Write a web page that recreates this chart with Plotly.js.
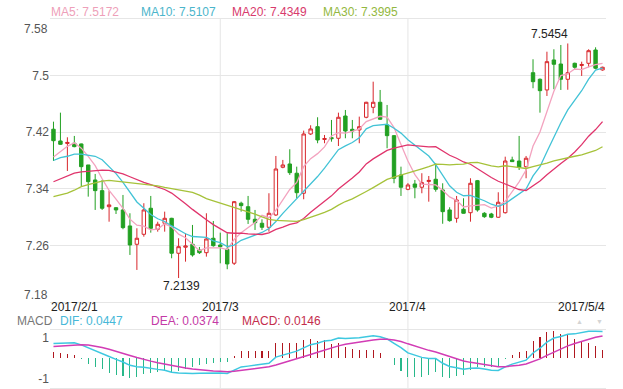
<!DOCTYPE html>
<html><head><meta charset="utf-8">
<script src="https://cdn.plot.ly/plotly-3.0.1.min.js"></script>
<style>html,body{margin:0;padding:0;background:#fff}#chart{width:623px;height:389px}</style>
</head><body><div id="chart"></div>
<script>
const dates = ['2017-02-01','2017-02-02','2017-02-03','2017-02-04','2017-02-06','2017-02-07','2017-02-08','2017-02-09','2017-02-10','2017-02-11',
'2017-02-13','2017-02-14','2017-02-15','2017-02-16','2017-02-17','2017-02-18','2017-02-20','2017-02-21','2017-02-22','2017-02-23',
'2017-02-24','2017-02-25','2017-02-27','2017-02-28','2017-03-01','2017-03-02','2017-03-03','2017-03-04','2017-03-06','2017-03-07',
'2017-03-08','2017-03-09','2017-03-10','2017-03-11','2017-03-13','2017-03-14','2017-03-15','2017-03-16','2017-03-17','2017-03-18',
'2017-03-20','2017-03-21','2017-03-22','2017-03-23','2017-03-24','2017-03-25','2017-03-27','2017-03-28','2017-03-29','2017-03-30',
'2017-03-31','2017-04-01','2017-04-03','2017-04-04','2017-04-05','2017-04-06','2017-04-07','2017-04-08','2017-04-10','2017-04-11',
'2017-04-12','2017-04-13','2017-04-14','2017-04-15','2017-04-17','2017-04-18','2017-04-19','2017-04-20','2017-04-21','2017-04-22',
'2017-04-24','2017-04-25','2017-04-26','2017-04-27','2017-04-28','2017-04-29','2017-05-01','2017-05-02','2017-05-03','2017-05-04'];

const openP = [7.4242,7.4076,7.4041,7.4044,7.4034,7.3737,7.3525,7.3374,7.3147,7.3133,
7.3101,7.2875,7.2616,7.2757,7.3125,7.2828,7.2913,7.2983,7.2489,7.2574,
7.2616,7.2535,7.2497,7.2701,7.2606,7.2545,7.2348,7.3196,7.3147,7.2969,
7.2913,7.2856,7.3030,7.3704,7.3751,7.3620,7.3337,7.4175,7.4278,7.4097,
7.4123,7.4114,7.4429,7.4241,7.4232,7.4411,7.4552,7.4623,7.4302,7.4151,
7.3596,7.3393,7.3468,7.3422,7.3504,7.3535,7.3384,7.3101,7.2983,7.3111,
7.3062,7.3515,7.3054,7.3044,7.2998,7.3062,7.3808,7.3793,7.3713,7.5041,
7.4948,7.4797,7.5221,7.5164,7.4948,7.5174,7.5143,7.5174,7.5362,7.5080];

const highP = [7.4349,7.4476,7.4128,7.4147,7.4040,7.3737,7.3610,7.3525,7.3374,7.3140,
7.3313,7.3054,7.2842,7.3196,7.3299,7.2935,7.3077,7.2990,7.2701,7.2772,
7.2889,7.2578,7.3054,7.2945,7.2780,7.2772,7.3228,7.3218,7.3299,7.3101,
7.2969,7.3337,7.3864,7.3808,7.3959,7.3713,7.4222,7.4298,7.4411,7.4161,
7.4373,7.4476,7.4514,7.4373,7.4420,7.4630,7.4914,7.4797,7.4585,7.4160,
7.3713,7.3480,7.3525,7.3620,7.3581,7.3761,7.3478,7.3139,7.3299,7.3266,
7.3549,7.3525,7.3070,7.3060,7.3351,7.3854,7.3854,7.4147,7.3864,7.5231,
7.4960,7.5338,7.5372,7.5433,7.5454,7.5183,7.5197,7.5372,7.5400,7.5126];

const lowP = [7.3793,7.4020,7.3652,7.3987,7.3440,7.3289,7.3101,7.3101,7.2935,7.3044,
7.2828,7.2465,7.2253,7.2723,7.2780,7.2794,7.2794,7.2418,7.2139,7.2370,
7.2441,7.2479,7.2441,7.2582,7.2347,7.2263,7.2323,7.3077,7.2903,7.2818,
7.2818,7.2794,7.3016,7.3690,7.3596,7.3266,7.3252,7.4161,7.4044,7.4044,
7.4066,7.4005,7.4114,7.4114,7.4044,7.4397,7.4468,7.4373,7.3973,7.3478,
7.3299,7.3380,7.3266,7.3337,7.3218,7.3359,7.2906,7.2935,7.2921,7.3050,
7.2935,7.3077,7.2990,7.2985,7.2990,7.3050,7.3780,7.3666,7.3549,7.4821,
7.4476,7.4712,7.4807,7.4797,7.4800,7.5080,7.4995,7.5118,7.5090,7.5070];

const closeP = [7.4080,7.4029,7.4055,7.3996,7.3713,7.3501,7.3374,7.3125,7.3172,7.3101,
7.2851,7.2606,7.2701,7.3101,7.2842,7.2899,7.2983,7.2489,7.2582,7.2592,
7.2465,7.2497,7.2691,7.2596,7.2582,7.2338,7.3218,7.3162,7.2969,7.2921,
7.2856,7.3054,7.3680,7.3737,7.3628,7.3345,7.4175,7.4246,7.4090,7.4111,
7.4109,7.4411,7.4217,7.4217,7.4278,7.4623,7.4623,7.4383,7.4151,7.3549,
7.3422,7.3454,7.3422,7.3487,7.3518,7.3393,7.3077,7.2950,7.3242,7.3054,
7.3478,7.3101,7.3006,7.2998,7.3210,7.3793,7.3784,7.3704,7.3832,7.4914,
7.4787,7.5197,7.5160,7.4948,7.5041,7.5118,7.5157,7.5352,7.5104,7.5118];

const ma5 = [7.385,7.393,7.400,7.405,7.3975,7.3859,7.3728,7.3542,7.3377,7.3255,
7.3125,7.2971,7.2886,7.2872,7.2820,7.2830,7.2905,7.2863,7.2759,7.2709,
7.2622,7.2525,7.2565,7.2568,7.2566,7.2541,7.2685,7.2779,7.2854,7.2922,
7.3025,7.2992,7.3096,7.3250,7.3391,7.3489,7.3713,7.3826,7.3897,7.3993,
7.4146,7.4193,7.4188,7.4213,7.4246,7.4349,7.4392,7.4425,7.4412,7.4266,
7.4026,7.3792,7.3600,7.3467,7.3461,7.3455,7.3379,7.3285,7.3236,7.3143,
7.3160,7.3165,7.3176,7.3127,7.3159,7.3222,7.3358,7.3498,7.3665,7.4005,
7.4204,7.4487,7.4778,7.5001,7.5027,7.5093,7.5085,7.5123,7.5154,7.5172];

const ma10 = [7.380,7.384,7.386,7.389,7.389,7.387,7.386,7.381,7.371,7.3615,
7.3492,7.3349,7.3214,7.3125,7.3037,7.2977,7.2938,7.2875,7.2816,7.2765,
7.2726,7.2715,7.2714,7.2664,7.2638,7.2582,7.2605,7.2672,7.2711,7.2744,
7.2783,7.2839,7.2938,7.3052,7.3156,7.3257,7.3353,7.3461,7.3573,7.3692,
7.3818,7.3953,7.4007,7.4055,7.4120,7.4248,7.4293,7.4306,7.4312,7.4256,
7.4187,7.4092,7.4012,7.3939,7.3863,7.3740,7.3586,7.3442,7.3351,7.3302,
7.3308,7.3272,7.3231,7.3182,7.3151,7.3191,7.3262,7.3337,7.3396,7.3582,
7.3713,7.3923,7.4138,7.4333,7.4516,7.4649,7.4786,7.4951,7.5078,7.5107];

const ma20 = [7.350,7.354,7.358,7.362,7.364,7.365,7.366,7.3665,7.366,7.364,
7.361,7.357,7.3525,7.349,7.346,7.343,7.339,7.334,7.327,7.3190,
7.3109,7.3032,7.2964,7.2894,7.2837,7.2779,7.2772,7.2773,7.2763,7.2754,
7.2754,7.2777,7.2826,7.2858,7.2897,7.2919,7.2979,7.3067,7.3142,7.3218,
7.3300,7.3396,7.3472,7.3553,7.3638,7.3752,7.3823,7.3884,7.3943,7.3974,
7.4002,7.4022,7.4010,7.3997,7.3992,7.3994,7.3939,7.3874,7.3832,7.3779,
7.3747,7.3682,7.3621,7.3560,7.3507,7.3466,7.3424,7.3390,7.3374,7.3442,
7.3510,7.3597,7.3684,7.3757,7.3833,7.3920,7.4024,7.4144,7.4237,7.4349];

const ma30 = [7.329,7.331,7.334,7.338,7.343,7.346,7.349,7.351,7.352,7.351,
7.350,7.348,7.347,7.346,7.345,7.344,7.342,7.340,7.339,7.337,
7.335,7.331,7.326,7.323,7.320,7.317,7.314,7.311,7.307,7.3041,
7.3002,7.2968,7.2955,7.2947,7.2944,7.2939,7.2965,7.3003,7.3033,7.3067,
7.3109,7.3169,7.3220,7.3257,7.3305,7.3362,7.3417,7.3480,7.3532,7.3564,
7.3596,7.3628,7.3652,7.3682,7.3713,7.3748,7.3744,7.3737,7.3746,7.3750,
7.3771,7.3772,7.3750,7.3725,7.3711,7.3726,7.3713,7.3695,7.3687,7.3713,
7.3736,7.3762,7.3794,7.3818,7.3843,7.3860,7.3878,7.3910,7.3942,7.3995];

const macdBar = [0.30,0.25,0.22,0.19,-0.02,-0.25,-0.44,-0.54,-0.70,-0.81,
-0.86,-0.97,-0.92,-0.76,-0.73,-0.65,-0.60,-0.65,-0.60,-0.54,
-0.44,-0.33,-0.25,-0.22,-0.17,-0.17,0.14,0.35,0.35,0.35,
0.35,0.35,0.78,0.78,0.78,0.78,0.89,0.96,0.88,0.89,
0.73,0.78,0.57,0.46,0.41,0.41,0.41,0.25,0.02,-0.33,
-0.60,-0.89,-0.89,-0.89,-0.81,-0.65,-0.89,-0.97,-0.86,-0.81,
-0.57,-0.44,-0.44,-0.44,-0.38,-0.02,0.19,0.30,0.38,0.86,
1.05,1.30,1.37,1.21,1.14,0.94,0.84,0.78,0.59,0.43];

const dea = [0.59,0.62,0.65,0.68,0.68,0.66,0.61,0.54,0.45,0.36,
0.26,0.15,0.05,-0.05,-0.13,-0.21,-0.28,-0.35,-0.41,-0.47,
-0.52,-0.56,-0.59,-0.61,-0.63,-0.65,-0.63,-0.59,-0.55,-0.50,
-0.46,-0.41,-0.32,-0.22,-0.12,-0.03,0.08,0.20,0.31,0.42,
0.53,0.62,0.70,0.76,0.81,0.86,0.91,0.94,0.95,0.91,
0.835,0.72,0.61,0.50,0.40,0.32,0.21,0.09,-0.02,-0.12,
-0.19,-0.25,-0.30,-0.36,-0.40,-0.40,-0.37,-0.33,-0.27,-0.16,
-0.02,0.15,0.32,0.48,0.62,0.74,0.85,0.95,1.04,1.11];

const dif = [0.74,0.745,0.76,0.775,0.67,0.535,0.39,0.27,0.10,-0.045,
-0.17,-0.335,-0.41,-0.43,-0.495,-0.535,-0.58,-0.675,-0.71,-0.74,
-0.74,-0.725,-0.715,-0.72,-0.715,-0.735,-0.56,-0.415,-0.375,-0.325,
-0.285,-0.235,0.07,0.17,0.27,0.36,0.525,0.68,0.75,0.865,
0.895,1.01,0.985,0.99,1.015,1.065,1.115,1.065,0.96,0.745,
0.535,0.275,0.165,0.055,-0.005,-0.005,-0.235,-0.395,-0.45,-0.525,
-0.475,-0.47,-0.52,-0.58,-0.59,-0.41,-0.275,-0.18,-0.08,0.27,
0.505,0.80,1.005,1.085,1.19,1.21,1.27,1.34,1.335,1.325];

const priceTickVals = [7.18, 7.26, 7.34, 7.42, 7.5, 7.58];
const priceTickText = ['7.18', '7.26', '7.34', '7.42', '7.5', '7.58'];
const macdTickVals = [-1, 1];
const macdTickText = ['-1', '1'];
const dateTickVals = ['2017-02-01', '2017-03-01', '2017-04-01', '2017-05-04'];
const dateTickText = ['2017/2/1', '2017/3', '2017/4', '2017/5/4'];
const maNames = ['MA5', 'MA10', 'MA20', 'MA30'];
const maLast = ['7.5172', '7.5107', '7.4349', '7.3995'];
const macdNames = ['DIF', 'DEA', 'MACD'];
const macdLast = ['0.0447', '0.0374', '0.0146'];
const maxLabel = '7.5454';
const minLabel = '7.2139';

const FONT = '"Liberation Sans", Arial, sans-serif';
const RED = '#d8262b', GREEN = '#22a022';
const maColors = ['#f3a3bf', '#42c3d6', '#e0346c', '#a6c23a'];
const maTextColors = ['#ee9fb9', '#4bb5cb', '#d83a6c', '#93b841'];
const macdTextColors = ['#47b8d8', '#c43aa6', '#c42d4c'];
const GRID = '#e6e6e6';

const idx = d => dates.indexOf(d);

const traces = [];
traces.push({
  type: 'candlestick', x: dates, open: openP, high: highP, low: lowP, close: closeP,
  xaxis: 'x', yaxis: 'y', whiskerwidth: 0, hoverinfo: 'skip',
  increasing: {line: {color: RED, width: 1}, fillcolor: '#ffffff'},
  decreasing: {line: {color: GREEN, width: 1}, fillcolor: GREEN}
});
[ma5, ma10, ma20, ma30].forEach((arr, k) => {
  traces.push({type: 'scatter', mode: 'lines', x: dates, y: arr, xaxis: 'x', yaxis: 'y',
    line: {color: maColors[k], width: 1.3}, hoverinfo: 'skip'});
});
traces.push({
  type: 'bar', x: dates, y: macdBar, xaxis: 'x2', yaxis: 'y2', width: 0.15,
  marker: {color: macdBar.map(v => v >= 0 ? '#b0171f' : '#28b88a'), line: {width: 0}}, hoverinfo: 'skip'
});
traces.push({type: 'scatter', mode: 'lines', x: dates, y: dif, xaxis: 'x2', yaxis: 'y2',
  line: {color: '#3ec8e0', width: 1.5}, hoverinfo: 'skip'});
traces.push({type: 'scatter', mode: 'lines', x: dates, y: dea, xaxis: 'x2', yaxis: 'y2',
  line: {color: '#d23cb5', width: 1.5}, hoverinfo: 'skip'});

const W = 623, H = 389, ML = 50, MR = 17, MT = 19, MB = 1;
const PW = W - ML - MR, PH = H - MT - MB;
const px2x = px => (px - ML) / PW;
const py2y = py => (H - MB - py) / PH;

const annotations = [];
const maX = [50, 140, 231, 322];
maNames.forEach((n, k) => annotations.push({
  xref: 'paper', yref: 'paper', x: px2x(maX[k]), y: py2y(12.5), xanchor: 'left', yanchor: 'middle', borderpad: 0,
  text: n + ': ' + maLast[k], showarrow: false, font: {family: FONT, size: 12, color: maTextColors[k]}
}));
annotations.push({xref: 'paper', yref: 'paper', x: px2x(16), y: py2y(321), xanchor: 'left', yanchor: 'middle', borderpad: 0,
  text: 'MACD', showarrow: false, font: {family: FONT, size: 12, color: '#777'}});
const macdX = [59, 150, 241];
macdNames.forEach((n, k) => annotations.push({
  xref: 'paper', yref: 'paper', x: px2x(macdX[k]), y: py2y(321), xanchor: 'left', yanchor: 'middle', borderpad: 0,
  text: n + ': ' + macdLast[k], showarrow: false, font: {family: FONT, size: 12, color: macdTextColors[k]}
}));
const dAnch = ['left', 'center', 'center', 'right'];
const dShift = [-3.5, 0, 0, 3.5];
dateTickVals.forEach((d, k) => annotations.push({
  xref: 'x', yref: 'paper', x: idx(d), y: py2y(307), xanchor: dAnch[k], yanchor: 'middle', xshift: dShift[k], borderpad: 0,
  text: dateTickText[k], showarrow: false, font: {family: FONT, size: 12, color: '#222'}
}));
annotations.push({xref: 'paper', yref: 'y', x: 0, y: priceTickVals[5], xanchor: 'right', yanchor: 'middle', yshift: -10,
  text: priceTickText[5], showarrow: false, font: {family: FONT, size: 12, color: '#555'}});
annotations.push({xref: 'paper', yref: 'y', x: 0, y: priceTickVals[0], xanchor: 'right', yanchor: 'middle', yshift: 7,
  text: priceTickText[0], showarrow: false, font: {family: FONT, size: 12, color: '#555'}});
const iMax = highP.indexOf(Math.max(...highP));
const iMin = lowP.indexOf(Math.min(...lowP));
annotations.push({xref: 'x', yref: 'y', x: iMax, y: highP[iMax], xanchor: 'right', yanchor: 'bottom', xshift: 2,
  text: maxLabel, showarrow: false, font: {family: FONT, size: 12, color: '#222'}});
annotations.push({xref: 'x', yref: 'y', x: iMin, y: lowP[iMin], xanchor: 'center', yanchor: 'top', xshift: 3, yshift: 1,
  text: minLabel, showarrow: false, font: {family: FONT, size: 12, color: '#222'}});
annotations.push({xref: 'paper', yref: 'paper', x: px2x(579), y: py2y(321), xanchor: 'center', yanchor: 'middle', borderpad: 0,
  text: '▲', showarrow: false, font: {family: FONT, size: 7, color: '#d4d4d4'}});
annotations.push({xref: 'paper', yref: 'paper', x: px2x(599), y: py2y(321), xanchor: 'center', yanchor: 'middle', borderpad: 0,
  text: '▼', showarrow: false, font: {family: FONT, size: 7, color: '#d4d4d4'}});

const shapes = [dateTickVals[1], dateTickVals[2]].map(d => ({
  type: 'line', xref: 'x', yref: 'paper', x0: idx(d), x1: idx(d), y0: 0, y1: 1,
  line: {color: GRID, width: 1}, layer: 'below'
}));

const layout = {
  width: W, height: H, margin: {l: ML, r: MR, t: MT, b: MB, pad: 0},
  paper_bgcolor: '#ffffff', plot_bgcolor: '#ffffff', showlegend: false, dragmode: false,
  font: {family: FONT, size: 12, color: '#555'},
  xaxis: {type: 'category', domain: [0, 1], anchor: 'y', range: [-0.5, dates.length - 0.5],
    rangeslider: {visible: false}, showticklabels: false, showgrid: false, zeroline: false,
    showline: true, mirror: true, linecolor: GRID, linewidth: 1, ticks: '', fixedrange: true},
  yaxis: {domain: [(H - MB - 302) / PH, 1], range: [7.18, 7.58], anchor: 'x',
    tickvals: priceTickVals.slice(1, 5), ticktext: priceTickText.slice(1, 5),
    showgrid: true, gridcolor: GRID, gridwidth: 1, zeroline: false, ticks: '', showline: false,
    tickfont: {family: FONT, size: 12, color: '#555'}, fixedrange: true},
  xaxis2: {type: 'category', domain: [0, 1], anchor: 'y2', range: [-0.5, dates.length - 0.5],
    showticklabels: false, showgrid: false, zeroline: false, showline: true, mirror: true,
    linecolor: GRID, linewidth: 1, ticks: '', fixedrange: true},
  yaxis2: {domain: [0, (H - MB - 330) / PH], range: [-1.45, 1.40], anchor: 'x2',
    tickvals: macdTickVals, ticktext: macdTickText, showgrid: false, zeroline: false, ticks: '',
    tickfont: {family: FONT, size: 12, color: '#555'}, fixedrange: true},
  annotations: annotations,
  shapes: shapes,
  bargap: 0
};

Plotly.newPlot('chart', traces, layout, {staticPlot: true, displayModeBar: false});
</script>
</body></html>
